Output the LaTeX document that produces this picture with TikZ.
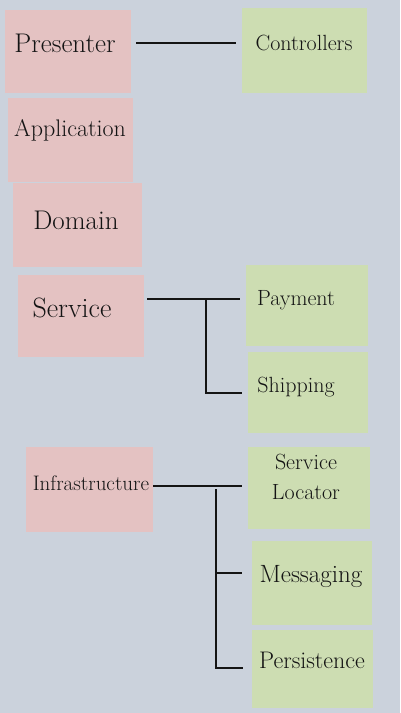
\documentclass[tikz,border=0pt]{standalone}
\usepackage{fontspec}
\definecolor{bg}{HTML}{CBD2DC}
\definecolor{pinknote}{HTML}{E4C2C2}
\definecolor{greennote}{HTML}{CDDDB2}
\definecolor{ink}{HTML}{141414}
\tikzset{
  note/.style={rectangle, inner sep=0pt, draw=none},
  pnote/.style={note, fill=pinknote},
  gnote/.style={note, fill=greennote},
  txt/.style={inner sep=0pt, text=ink, align=center},
  fs/.style={font=\fontsize{#1}{#1}\selectfont},
  wire/.style={draw=ink, line width=1.6pt}
}
\begin{document}
\begin{tikzpicture}[x=1pt,y=-1pt]
\fill[bg] (0,0) rectangle (400,713);
\useasboundingbox (0,0) rectangle (400,713);
% pink notes
\node[pnote, minimum width=126pt, minimum height=83pt] (presenter) at (68,51.5) {};
\node[pnote, minimum width=125pt, minimum height=84pt] (application) at (70.5,140) {};
\node[pnote, minimum width=129pt, minimum height=84pt] (domain) at (77.5,225) {};
\node[pnote, minimum width=126pt, minimum height=82pt] (service) at (81,316) {};
\node[pnote, minimum width=127pt, minimum height=85pt] (infra) at (89.5,489.5) {};
% green notes
\node[gnote, minimum width=125pt, minimum height=85pt] (controllers) at (304.5,50.5) {};
\node[gnote, minimum width=122pt, minimum height=81pt] (payment) at (307,305.5) {};
\node[gnote, minimum width=120pt, minimum height=81pt] (shipping) at (308,392.5) {};
\node[gnote, minimum width=122pt, minimum height=82pt] (locator) at (309,488) {};
\node[gnote, minimum width=120pt, minimum height=84pt] (messaging) at (312,583) {};
\node[gnote, minimum width=121pt, minimum height=78pt] (persistence) at (312.5,669) {};
% texts
\node[txt, fs=27] (tpresenter) at (65,43) {Presenter};
\node[txt, fs=24] (tapplication) at (70,130) {Application};
\node[txt, fs=27] (tdomain) at (76,220) {Domain};
\node[txt, fs=28] (tservice) at (72,308) {Service};
\node[txt, fs=21] (tinfra) at (91,483) {Infrastructure};
\node[txt, fs=22] (tcontrollers) at (304,43) {Controllers};
\node[txt, fs=22] (tpayment) at (296,300) {Payment};
\node[txt, fs=22] (tshipping) at (296,387) {Shipping};
\node[txt, font=\fontsize{22}{30}\selectfont] (tlocator) at (306,477) {Service\\Locator};
\node[txt, fs=25] (tmessaging) at (311,577) {Messaging};
\node[txt, fs=24] (tpersistence) at (312,660) {Persistence};
% connector coordinates
\coordinate (c1a) at (136,43);
\coordinate (c1b) at (236,43);
\coordinate (s0) at (147,299);
\coordinate (s1) at (240,299);
\coordinate (sj) at (206,299);
\coordinate (sk) at (206,393);
\coordinate (s2) at (242,393);
\coordinate (i0) at (153,486);
\coordinate (i1) at (242,486);
\coordinate (ij) at (216,489);
\coordinate (im) at (216,573);
\coordinate (ik) at (216,668);
\coordinate (i2) at (242,573);
\coordinate (i3) at (243,668);
% connectors
\draw[wire] (c1a) -- (c1b);
\draw[wire] (s0) -- (s1);
\draw[wire] (sj) -- (sk) -- (s2);
\draw[wire] (i0) -- (i1);
\draw[wire] (ij) -- (ik) -- (i3);
\draw[wire] (im) -- (i2);
\end{tikzpicture}
\end{document}
